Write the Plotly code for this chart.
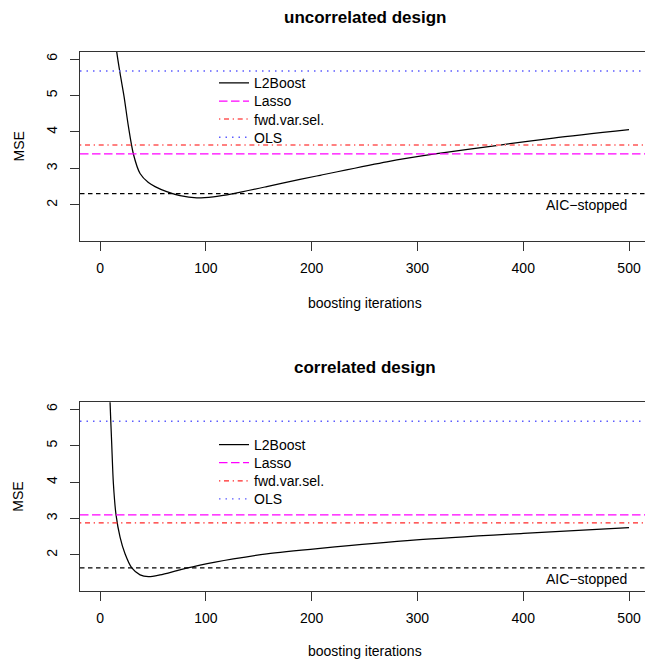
import plotly.graph_objects as go
from plotly.subplots import make_subplots

# ---------------- data ----------------
panel_titles = ["uncorrelated design", "correlated design"]
series_names = ["L2Boost", "Lasso", "fwd.var.sel.", "OLS"]

# L2Boost MSE curve, uncorrelated design
iter_uncor = [12, 15.8, 18.9, 22.7, 26.8, 31.5, 37.8, 45.7, 52, 63, 75.6, 91.4, 107,
              126, 157.6, 189, 208, 271, 316.6, 378, 428.5, 500]
mse_uncor = [7.2, 6.19, 5.61, 4.97, 4.15, 3.395, 2.86, 2.61, 2.50, 2.36, 2.25, 2.19, 2.22,
             2.31, 2.50, 2.70, 2.81, 3.18, 3.395, 3.64, 3.83, 4.06]

# L2Boost MSE curve, correlated design
iter_cor = [8, 9.45, 11, 12.6, 15.1, 18.9, 23.6, 30, 37.8, 45.7, 56.7, 75.6, 94.5,
            126, 157.6, 208, 299, 400, 500]
mse_cor = [7.5, 6.19, 5.06, 3.96, 3.10, 2.49, 2.03, 1.64, 1.45, 1.40, 1.45, 1.59, 1.72,
           1.89, 2.03, 2.18, 2.41, 2.59, 2.75]

# constant reference levels  [uncorrelated, correlated]
lasso_mse = [3.395, 3.10]
fwd_mse = [3.64, 2.88]
ols_mse = [5.67, 5.67]
aic_mse = [2.31, 1.64]

x_ticks = [0, 100, 200, 300, 400, 500]
y_ticks = [2, 3, 4, 5, 6]
x_range = [-18.96, 515.1]
y_range = [1.008, 6.192]

# ---------------- figure ----------------
W, H = 645, 659
mt, mb, ml = 52, 68, 80
ph = H - mt - mb
pw = W - ml

fig = make_subplots(rows=2, cols=1)

FONT = "Liberation Sans, Arial, Helvetica, sans-serif"
line_w = 1.25

curves = [(iter_uncor, mse_uncor), (iter_cor, mse_cor)]
fwd_styles = [dict(color="#ff8080", width=2.0), dict(color="#ff2626", width=1.3)]

# legend layout: one native legend per entry, stacked like R's legend()
legend_first_px = [83.3, 445.0]
legend_step_px = 18.1
legend_x_px = 214


def paper_y(px):
    return 1 - (px - mt) / ph


leg_layout = {}
for i in range(2):
    row = i + 1
    xs, ys = curves[i]
    lg_names = []
    for k in range(4):
        n = i * 4 + k + 1
        name = "legend" if n == 1 else "legend%d" % n
        lg_names.append(name)
        leg_layout[name] = dict(
            x=(legend_x_px - ml) / pw, y=paper_y(legend_first_px[i] + k * legend_step_px),
            xanchor="left", yanchor="middle", bgcolor="rgba(0,0,0,0)", borderwidth=0,
            font=dict(family=FONT, size=14, color="black"), itemwidth=30)
    fig.add_trace(go.Scatter(x=xs, y=ys, mode="lines", name=series_names[0],
                             line=dict(color="black", width=line_w, shape="spline", smoothing=0.8),
                             legend=lg_names[0]), row=row, col=1)
    fig.add_trace(go.Scatter(x=x_range, y=[lasso_mse[i]] * 2, mode="lines", name=series_names[1],
                             line=dict(color="#ff00ff", width=line_w, dash="8.5px,3.5px"),
                             legend=lg_names[1]), row=row, col=1)
    fig.add_trace(go.Scatter(x=x_range, y=[fwd_mse[i]] * 2, mode="lines", name=series_names[2],
                             line=dict(dash="1.3px,3.7px,5px,3.7px", **fwd_styles[i]),
                             legend=lg_names[2]), row=row, col=1)
    fig.add_trace(go.Scatter(x=x_range, y=[ols_mse[i]] * 2, mode="lines", name=series_names[3],
                             line=dict(color="#5c5cff", width=1.4, dash="1.5px,5px"),
                             legend=lg_names[3]), row=row, col=1)
    fig.add_trace(go.Scatter(x=x_range, y=[aic_mse[i]] * 2, mode="lines", name="AIC-stopped",
                             line=dict(color="black", width=line_w, dash="4.5px,3.5px"),
                             showlegend=False), row=row, col=1)

# axes
common_x = dict(range=x_range, tickvals=x_ticks, ticks="outside", ticklen=9, tickwidth=1.1,
                tickcolor="#333", showline=True, linecolor="#333", linewidth=1.3, mirror=True,
                showgrid=False, zeroline=False, ticklabelstandoff=5, automargin=False,
                tickfont=dict(family=FONT, size=14, color="black"))
common_y = dict(range=y_range, tickvals=y_ticks, ticks="outside", ticklen=9, tickwidth=1.1,
                tickcolor="#333", showline=True, linecolor="#333", linewidth=1.3, mirror=False,
                showgrid=False, zeroline=False, tickangle=-90, ticklabelstandoff=7,
                automargin=False, tickfont=dict(family=FONT, size=14, color="black"))

# plot area px: top panel 52..241, bottom panel 402.3..591
top_dom = [1 - (241 - mt) / ph, 1]
bot_dom = [0, (591 - 402.3) / ph]

fig.update_layout(
    xaxis=dict(common_x, domain=[0, 1], anchor="y"),
    yaxis=dict(common_y, domain=top_dom, anchor="x"),
    xaxis2=dict(common_x, domain=[0, 1], anchor="y2"),
    yaxis2=dict(common_y, domain=bot_dom, anchor="x2"),
    **leg_layout,
)

xlab_shift = [-62, -59.5]
annotations = []
for i in range(2):
    yd = "y domain" if i == 0 else "y2 domain"
    xd = "x" if i == 0 else "x2"
    annotations.append(dict(text="<b>%s</b>" % panel_titles[i], xref=xd, x=250, yref=yd, y=1,
                            yshift=35, showarrow=False, xanchor="center", yanchor="middle",
                            font=dict(family=FONT, size=17, color="black")))
    annotations.append(dict(text="boosting iterations", xref=xd, x=250, yref=yd, y=0,
                            yshift=xlab_shift[i], showarrow=False, xanchor="center",
                            yanchor="middle", font=dict(family=FONT, size=14, color="black")))
    annotations.append(dict(text="MSE", xref="paper", x=0, xshift=-62, yref=yd, y=0.5,
                            showarrow=False, textangle=-90, xanchor="center", yanchor="middle",
                            font=dict(family=FONT, size=14, color="black")))
    annotations.append(dict(text="AIC\u2212stopped", xref=xd, x=500, yref="y" if i == 0 else "y2",
                            y=aic_mse[i], yshift=-11.5, showarrow=False, xanchor="right",
                            yanchor="middle", font=dict(family=FONT, size=14, color="black")))

fig.update_layout(
    width=W, height=H,
    margin=dict(l=ml, r=0, t=mt, b=mb, pad=0, autoexpand=False),
    paper_bgcolor="white", plot_bgcolor="white",
    annotations=annotations,
    showlegend=True,
)

fig.write_html(
    "out.html",
    config={"displayModeBar": False},
    post_script="document.body.style.margin='0';document.body.style.padding='0';"
                "document.body.style.overflow='hidden';",
)
